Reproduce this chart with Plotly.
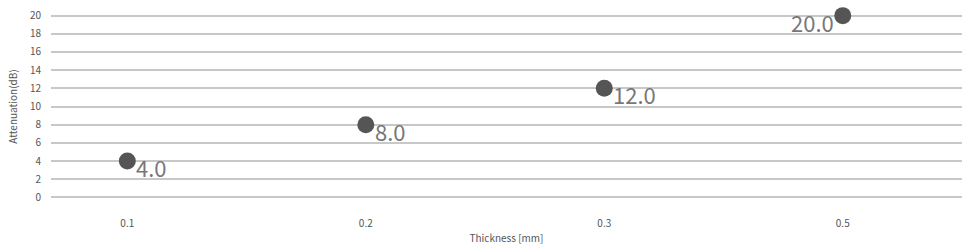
import plotly.graph_objects as go

thickness = ["0.1", "0.2", "0.3", "0.5"]
attenuation = [4.0, 8.0, 12.0, 20.0]
label_side = ["right", "right", "right", "left"]
y_ticks = list(range(0, 21, 2))

fig = go.Figure(go.Scatter(
    x=thickness, y=attenuation, mode="markers",
    marker=dict(size=17, color="#555555"),
    cliponaxis=False, showlegend=False,
))

for i, (yv, side) in enumerate(zip(attenuation, label_side)):
    fig.add_annotation(
        x=i, y=yv, xref="x", yref="y", text=f"{yv:.1f}", showarrow=False,
        xanchor="left" if side == "right" else "right",
        yanchor="middle",
        xshift=7 if side == "right" else -7,
        yshift=-6,
        font=dict(size=22, color="#777777", family="Noto Sans CJK JP"),
    )

fig.update_layout(
    width=975, height=249,
    margin=dict(l=51, r=13, t=7, b=46),
    plot_bgcolor="white", paper_bgcolor="white",
    font=dict(family="Noto Sans CJK JP", size=10, color="#555555"),
)
fig.update_xaxes(
    type="category", range=[-0.32, 3.5],
    showgrid=False, zeroline=False, showline=False, ticks="",
    ticklabelstandoff=15,
    title=dict(text="Thickness [mm]", font=dict(size=10, color="#555555"), standoff=5),
    tickfont=dict(size=10, color="#555555"),
)
fig.update_yaxes(
    range=[-0.4, 20.4], tickvals=y_ticks,
    showgrid=True, gridcolor="#c8c8c8", gridwidth=2,
    zeroline=False, showline=False, ticks="",
    ticklabelstandoff=9,
    title=dict(text="Attenuation(dB)", font=dict(size=10, color="#555555"), standoff=10),
    tickfont=dict(size=10, color="#555555"),
)

fig.write_html("out.html")
